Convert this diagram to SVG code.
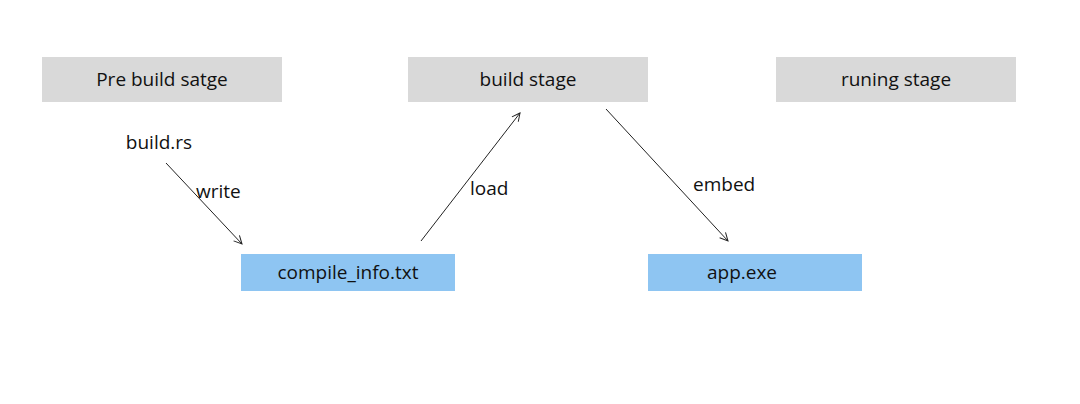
<svg xmlns="http://www.w3.org/2000/svg" width="1080" height="404" viewBox="0 0 1080 404">
<style>
text{font-family:"Open Sans","Noto Sans","DejaVu Sans",sans-serif;font-size:19px;fill:#111;}
.stage{fill:#d9d9d9;}
.file{fill:#8ec5f2;}
.c{stroke:#222;stroke-width:1;fill:none;marker-end:url(#ah);}
</style>
<defs>
<marker id="ah" markerWidth="10" markerHeight="10" refX="9" refY="5" orient="auto" markerUnits="userSpaceOnUse">
<path d="M1,1 L9,5 L1,9" fill="none" stroke="#222" stroke-width="1"/>
</marker>
</defs>
<rect width="1080" height="404" fill="#fff"/>
<g id="pre-build"><rect class="stage" x="42" y="57" width="240" height="45"/><text x="162" y="86" text-anchor="middle">Pre build satge</text></g>
<g id="build-stage"><rect class="stage" x="408" y="57" width="240" height="45"/><text x="528" y="86" text-anchor="middle">build stage</text></g>
<g id="running-stage"><rect class="stage" x="776" y="57" width="240" height="45"/><text x="896" y="86" text-anchor="middle">runing stage</text></g>
<g id="build-rs"><text x="159" y="149" text-anchor="middle">build.rs</text></g>
<g id="compile-info"><rect class="file" x="241" y="254" width="214" height="37"/><text x="348" y="279" text-anchor="middle">compile_info.txt</text></g>
<g id="app-exe"><rect class="file" x="648" y="254" width="214" height="37"/><text x="742" y="279" text-anchor="middle">app.exe</text></g>
<g id="connectors">
<line class="c" x1="166" y1="163" x2="242" y2="244"/>
<line class="c" x1="421" y1="241" x2="520" y2="113"/>
<line class="c" x1="606" y1="109" x2="728" y2="241"/>
<text x="196" y="198">write</text>
<text x="470" y="195">load</text>
<text x="693" y="191">embed</text>
</g>
</svg>
